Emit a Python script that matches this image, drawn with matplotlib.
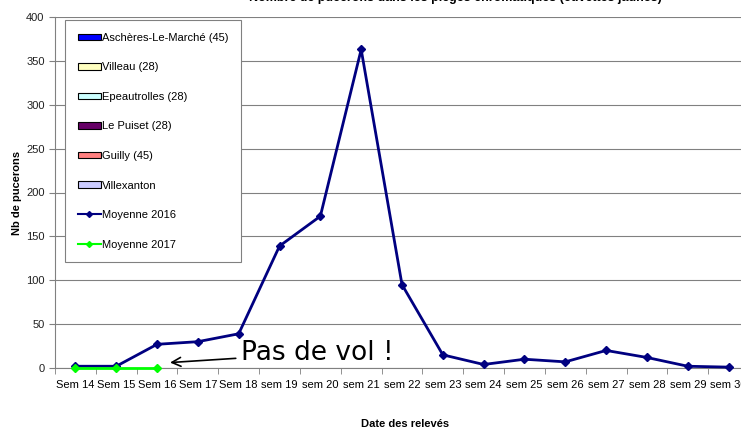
import matplotlib.pyplot as plt
import numpy as np
from matplotlib.patches import Patch
from matplotlib.lines import Line2D

plt.rcParams['font.family'] = ['Liberation Sans', 'DejaVu Sans']

weeks = ["Sem 14", "Sem 15", "Sem 16", "Sem 17", "Sem 18", "sem 19", "sem 20",
         "sem 21", "sem 22", "sem 23", "sem 24", "sem 25", "sem 26", "sem 27",
         "sem 28", "sem 29", "sem 30"]
moy_2016 = [2, 2, 27, 30, 39, 139, 173, 363, 95, 15, 4, 10, 7, 20, 12, 2, 1]
moy_2017 = [0, 0, 0]

sites = ["Aschères-Le-Marché (45)", "Villeau (28)", "Epeautrolles (28)",
         "Le Puiset (28)", "Guilly (45)", "Villexanton"]
site_colors = ["#0000FF", "#FFFFC0", "#CCFFFF", "#660066", "#FF8080", "#CCCCFF"]

W, H = 741, 428
fig = plt.figure(figsize=(W / 100, H / 100), dpi=100)
left, right, top, bottom = 55, 749, 17, 368
ax = fig.add_axes([left / W, 1 - bottom / H, (right - left) / W, (bottom - top) / H])

x = np.arange(len(weeks))
ax.plot(x, moy_2016, color="#000080", lw=2, marker="D", ms=4, zorder=3, clip_on=False)
ax.plot(x[:len(moy_2017)], moy_2017, color="#00FF00", lw=2, marker="D", ms=4,
        zorder=4, clip_on=False)

ax.set_xlim(-0.5, len(weeks) - 0.5)
ax.set_ylim(0, 400)
ax.set_yticks(range(0, 401, 50))
ax.yaxis.grid(True, color="#808080", lw=0.8)
ax.set_axisbelow(True)
ax.set_xticks(x)
ax.set_xticklabels(weeks, fontsize=8)
ax.set_xticks(np.arange(-0.5, len(weeks), 1), minor=True)
ax.tick_params(axis="x", which="major", length=0, pad=9)
ax.tick_params(axis="x", which="minor", length=4, color="#808080")
ax.tick_params(axis="y", length=4, color="#808080", labelsize=8, labelcolor="#202020")
for s in ["top", "right"]:
    ax.spines[s].set_visible(False)
for s in ["left", "bottom"]:
    ax.spines[s].set_color("#808080")

ax.set_ylabel("Nb de pucerons", fontsize=8, fontweight="bold", labelpad=3)
fig.text(405 / W, 1 - 424 / H, "Date des relevés", fontsize=8, fontweight="bold",
         ha="center", va="center")
fig.text(455 / W, 1 - (-2) / H, "Nombre de pucerons dans les pièges chromatiques (cuvettes jaunes)",
         fontsize=9, fontweight="bold", ha="center", va="center")

handles = [Patch(facecolor=c, edgecolor="black", lw=0.8) for c in site_colors]
handles += [Line2D([], [], color="#000080", lw=1.5, marker="D", ms=3),
            Line2D([], [], color="#00FF00", lw=1.5, marker="D", ms=3)]
labels = sites + ["Moyenne 2016", "Moyenne 2017"]
leg = ax.legend(handles, labels, loc="upper left", bbox_to_anchor=(65 / W, 1 - 20 / H),
                bbox_transform=fig.transFigure, borderaxespad=0, fontsize=8,
                labelspacing=1.76, handlelength=2.1, handleheight=0.55,
                handletextpad=0.1, borderpad=1.15, fancybox=False, framealpha=1)
leg.get_frame().set_edgecolor("#808080")
leg.get_frame().set_linewidth(0.8)

ax.annotate("Pas de vol !", xy=(2.25, 6), xytext=(2.25 + 74 / 40.8, 17),
            fontsize=19, family="DejaVu Sans", va="center", ha="left",
            arrowprops=dict(arrowstyle="->", color="black", lw=1.2, mutation_scale=16))

fig.savefig("out.png", dpi=100)
